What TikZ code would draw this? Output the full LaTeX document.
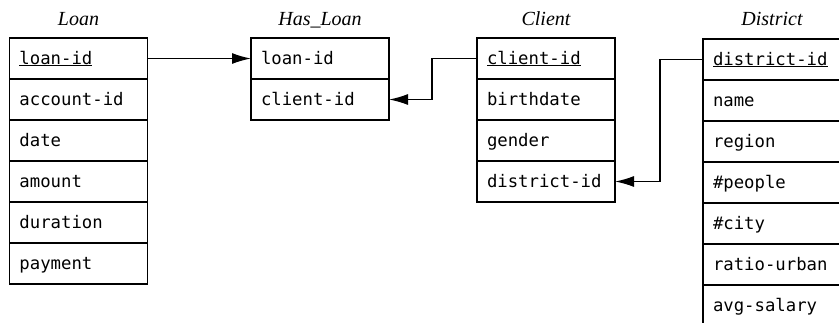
\documentclass[tikz,border=0pt]{standalone}
\usepackage{fontspec}
\setmainfont{Liberation Serif}
\setmonofont{DejaVu Sans Mono}
\usetikzlibrary{arrows.meta,positioning}

\begin{document}
\begin{tikzpicture}[
  node distance=0pt,
  field/.style={rectangle, draw, line width=1.6pt, outer sep=0pt, inner xsep=10pt,
    minimum width=138pt, minimum height=41pt, text width=118pt, align=left,
    text height=13pt, text depth=2pt, font=\ttfamily\fontsize{17.3}{20}\selectfont},
  tabtitle/.style={inner sep=0pt, text height=14pt, text depth=0pt,
    font=\itshape\fontsize{20}{24}\selectfont},
  arrow/.style={-{Latex[length=19pt,width=11pt]}, line width=1.4pt}
]
\useasboundingbox (0,0) rectangle (839pt,-322pt);
\clip (0,0) rectangle (839pt,-322pt);

% Loan
\node[field, anchor=north west] (loanid) at (9.5pt,-38pt) {\underline{loan-id}};
\node[field, below=of loanid] (accountid) {account-id};
\node[field, below=of accountid] (date) {date};
\node[field, below=of date] (amount) {amount};
\node[field, below=of amount] (duration) {duration};
\node[field, below=of duration] (payment) {payment};
\node[tabtitle, above=12pt of loanid] (loan) {Loan};

% Has_Loan
\node[field, anchor=north west] (hloanid) at (251pt,-38pt) {loan-id};
\node[field, below=of hloanid] (hclientid) {client-id};
\node[tabtitle, above=12pt of hloanid] (hasloan) {Has\_Loan};

% Client
\node[field, anchor=north west] (clientid) at (477pt,-38pt) {\underline{client-id}};
\node[field, below=of clientid] (birthdate) {birthdate};
\node[field, below=of birthdate] (gender) {gender};
\node[field, below=of gender] (cdistrictid) {district-id};
\node[tabtitle, above=12pt of clientid] (client) {Client};

% District
\node[field, anchor=north west] (districtid) at (703pt,-39pt) {\underline{district-id}};
\node[field, below=of districtid] (dname) {name};
\node[field, below=of dname] (region) {region};
\node[field, below=of region] (people) {\#people};
\node[field, below=of people] (city) {\#city};
\node[field, below=of city] (ratiourban) {ratio-urban};
\node[field, below=of ratiourban] (avgsalary) {avg-salary};
\node[tabtitle, above=13pt of districtid] (district) {District};

% foreign keys
\draw[arrow] (loanid.east) -- (hloanid.west);
\draw[arrow] (clientid.west) -- ++(-45pt,0) |- (hclientid.east);
\draw[arrow] (districtid.west) -- ++(-43pt,0) |- (cdistrictid.east);

\end{tikzpicture}
\end{document}
